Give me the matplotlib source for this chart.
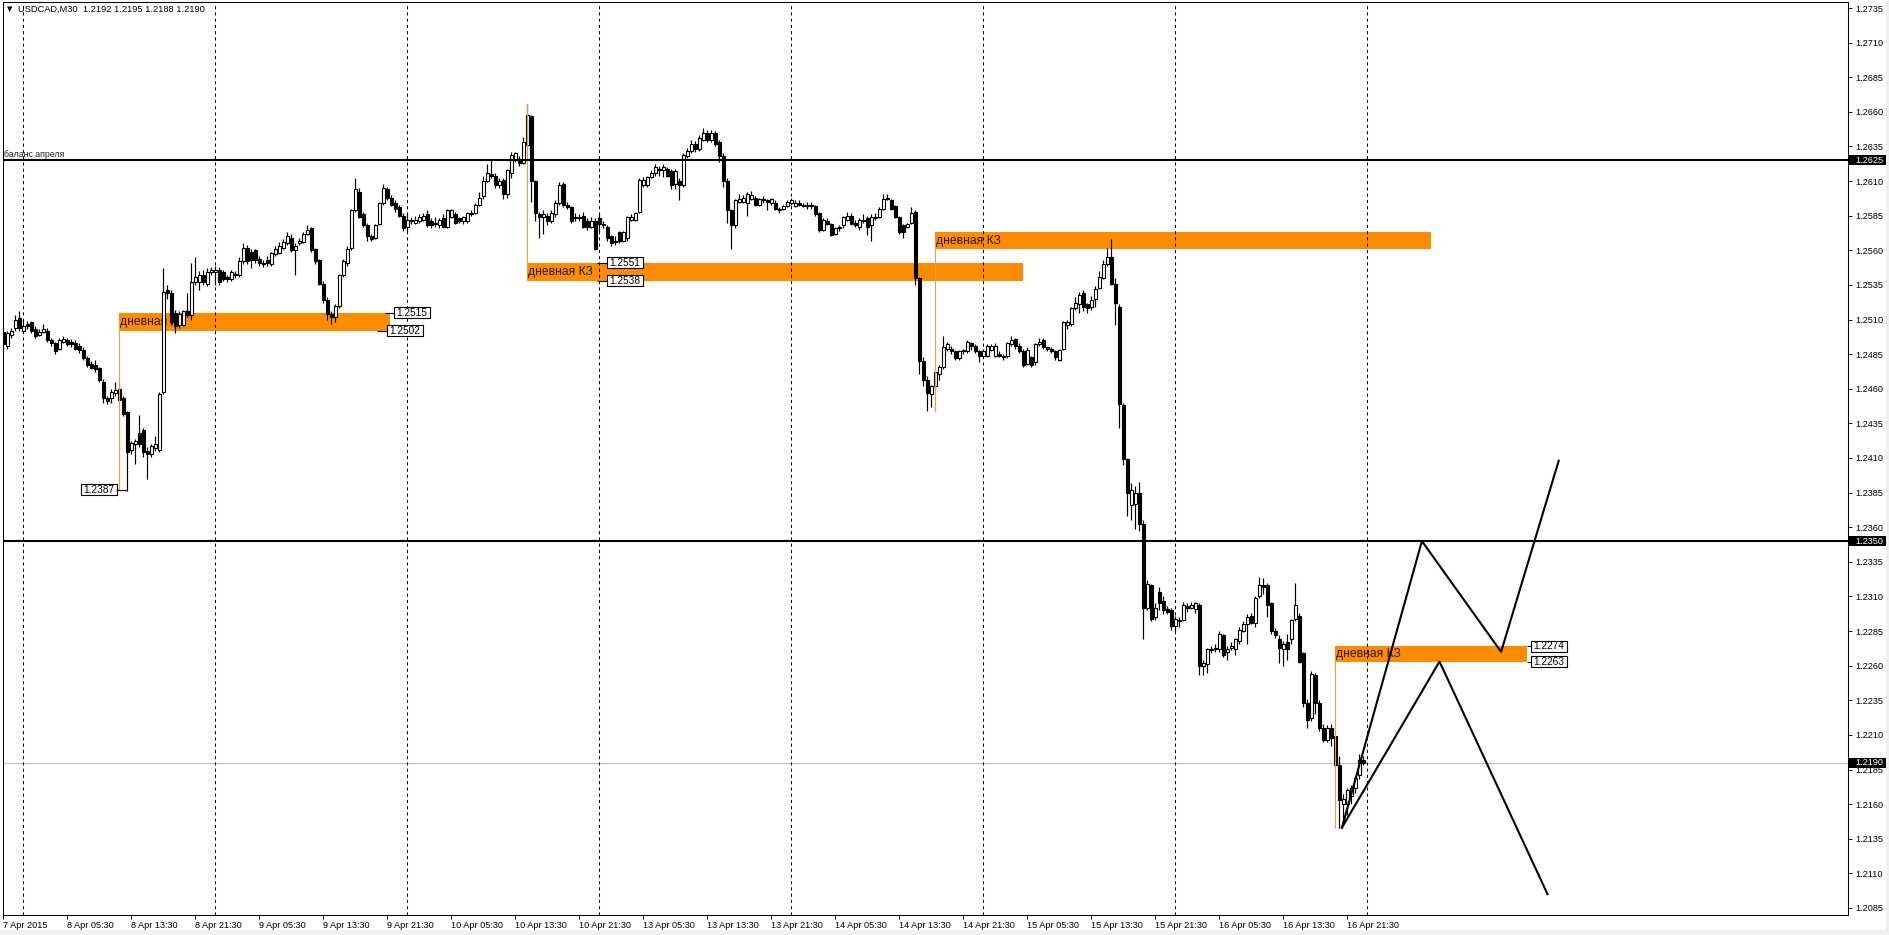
import matplotlib
matplotlib.use("Agg")
import matplotlib.pyplot as plt
import matplotlib.patches as patches
from matplotlib.transforms import blended_transform_factory, ScaledTranslation
import numpy as np

plt.rcParams['font.family'] = ['Liberation Sans', 'DejaVu Sans']

# USDCAD M30 candles, prices in 1/10000 (12501 -> 1.2501), first bar = 7 Apr 21:30
opens = [
    12501, 12491, 12499, 12504, 12511, 12502, 12507, 12508, 12503, 12499,
    12501, 12502, 12495, 12493, 12489, 12494, 12495, 12494, 12493, 12491,
    12488, 12482, 12478, 12477, 12475, 12465, 12453, 12453, 12457, 12460,
    12453, 12443, 12416, 12420, 12428, 12430, 12415, 12413, 12417, 12416,
    12458, 12531, 12529, 12515, 12506, 12506, 12516, 12513, 12537, 12537,
    12542, 12536, 12544, 12544, 12546, 12544, 12541, 12539, 12543, 12542,
    12552, 12562, 12559, 12560, 12554, 12551, 12553, 12550, 12557, 12558,
    12562, 12565, 12569, 12560, 12565, 12566, 12572, 12576, 12561, 12553,
    12536, 12524, 12514, 12512, 12520, 12542, 12551, 12562, 12589, 12602,
    12586, 12578, 12570, 12569, 12579, 12594, 12604, 12598, 12594, 12591,
    12585, 12577, 12582, 12580, 12581, 12582, 12586, 12581, 12580, 12578,
    12583, 12577, 12584, 12586, 12583, 12581, 12581, 12586, 12587, 12593,
    12599, 12610, 12615, 12614, 12607, 12611, 12601, 12616, 12626, 12626,
    12623, 12636, 12657, 12610, 12586, 12584, 12585, 12581, 12586, 12594,
    12608, 12593, 12591, 12584, 12583, 12585, 12581, 12577, 12581, 12583,
    12579, 12577, 12570, 12567, 12573, 12567, 12569, 12582, 12582, 12588,
    12607, 12607, 12613, 12616, 12618, 12618, 12619, 12617, 12608, 12610,
    12607, 12628, 12632, 12637, 12633, 12640, 12645, 12640, 12645, 12638,
    12628, 12610, 12589, 12578, 12595, 12595, 12594, 12597, 12598, 12593,
    12597, 12596, 12594, 12594, 12590, 12590, 12592, 12594, 12592, 12594,
    12593, 12592, 12593, 12592, 12587, 12575, 12581, 12579, 12572, 12577,
    12578, 12582, 12585, 12580, 12577, 12581, 12583, 12578, 12583, 12584,
    12590, 12597, 12596, 12592, 12584, 12578, 12577, 12580, 12588, 12540,
    12480, 12466, 12456, 12462, 12471, 12476, 12489, 12489, 12487, 12482,
    12488, 12487, 12493, 12491, 12487, 12484, 12484, 12488, 12484, 12485,
    12484, 12484, 12492, 12496, 12491, 12487, 12478, 12483, 12479, 12492,
    12495, 12490, 12489, 12487, 12481, 12489, 12506, 12507, 12518, 12521,
    12529, 12521, 12519, 12525, 12533, 12540, 12550, 12555, 12536, 12519,
    12448, 12409, 12376, 12377, 12385, 12362, 12302, 12318, 12295, 12313,
    12307, 12301, 12300, 12289, 12292, 12293, 12303, 12302, 12301, 12304,
    12260, 12261, 12271, 12272, 12272, 12282, 12270, 12273, 12272, 12278,
    12285, 12290, 12296, 12291, 12310, 12318, 12318, 12305, 12285, 12279,
    12272, 12277, 12279, 12294, 12296, 12269, 12233, 12222, 12253, 12233,
    12215, 12206, 12215, 12209, 12188, 12160, 12160, 12166, 12172, 12181,
    12192,
]
highs = [
    12504, 12502, 12504, 12513, 12516, 12510, 12509, 12509, 12505, 12503,
    12507, 12504, 12497, 12494, 12497, 12498, 12497, 12496, 12495, 12493,
    12490, 12484, 12480, 12481, 12476, 12467, 12455, 12460, 12465, 12463,
    12455, 12444, 12422, 12424, 12441, 12432, 12418, 12420, 12426, 12458,
    12547, 12535, 12531, 12517, 12516, 12517, 12529, 12551, 12555, 12545,
    12546, 12547, 12548, 12549, 12548, 12546, 12542, 12546, 12545, 12555,
    12565, 12564, 12561, 12561, 12556, 12553, 12556, 12559, 12563, 12566,
    12568, 12573, 12572, 12565, 12569, 12573, 12578, 12577, 12562, 12554,
    12538, 12526, 12516, 12521, 12543, 12554, 12563, 12590, 12612, 12605,
    12588, 12580, 12572, 12579, 12595, 12608, 12606, 12600, 12596, 12593,
    12587, 12586, 12584, 12585, 12586, 12587, 12589, 12583, 12584, 12583,
    12586, 12590, 12590, 12588, 12584, 12585, 12588, 12589, 12594, 12602,
    12614, 12622, 12626, 12616, 12612, 12612, 12619, 12631, 12631, 12628,
    12642, 12666, 12658, 12611, 12588, 12589, 12587, 12589, 12596, 12609,
    12609, 12595, 12592, 12587, 12586, 12588, 12583, 12584, 12583, 12586,
    12581, 12578, 12571, 12570, 12574, 12574, 12585, 12586, 12588, 12612,
    12613, 12614, 12618, 12622, 12621, 12622, 12620, 12619, 12619, 12612,
    12630, 12634, 12640, 12639, 12643, 12648, 12647, 12647, 12646, 12640,
    12630, 12612, 12590, 12597, 12601, 12600, 12602, 12603, 12599, 12598,
    12599, 12597, 12598, 12596, 12591, 12593, 12596, 12598, 12596, 12596,
    12594, 12595, 12595, 12593, 12588, 12583, 12583, 12580, 12577, 12578,
    12585, 12588, 12587, 12582, 12583, 12586, 12585, 12586, 12587, 12591,
    12601, 12601, 12597, 12593, 12585, 12579, 12580, 12591, 12589, 12541,
    12483, 12469, 12463, 12474, 12477, 12498, 12494, 12491, 12488, 12488,
    12489, 12495, 12494, 12492, 12488, 12489, 12492, 12492, 12493, 12487,
    12485, 12494, 12498, 12497, 12493, 12489, 12490, 12484, 12493, 12497,
    12497, 12491, 12490, 12488, 12489, 12509, 12510, 12519, 12526, 12530,
    12531, 12522, 12527, 12534, 12545, 12553, 12562, 12568, 12540, 12521,
    12450, 12410, 12392, 12390, 12393, 12365, 12322, 12319, 12305, 12317,
    12310, 12303, 12302, 12296, 12295, 12306, 12305, 12306, 12306, 12305,
    12264, 12273, 12274, 12276, 12285, 12283, 12274, 12277, 12280, 12288,
    12292, 12297, 12298, 12310, 12324, 12323, 12320, 12306, 12287, 12282,
    12278, 12283, 12294, 12320, 12298, 12270, 12236, 12256, 12255, 12235,
    12218, 12217, 12218, 12210, 12195, 12167, 12172, 12174, 12180, 12196,
    12195,
]
lows = [
    12489, 12489, 12497, 12502, 12502, 12500, 12503, 12500, 12497, 12498,
    12500, 12494, 12491, 12485, 12488, 12493, 12491, 12490, 12488, 12486,
    12481, 12476, 12474, 12472, 12465, 12450, 12449, 12450, 12455, 12451,
    12440, 12386, 12413, 12406, 12418, 12411, 12395, 12411, 12415, 12414,
    12456, 12525, 12506, 12500, 12504, 12505, 12512, 12510, 12535, 12531,
    12535, 12534, 12542, 12535, 12535, 12538, 12537, 12538, 12540, 12541,
    12550, 12550, 12547, 12551, 12549, 12548, 12549, 12549, 12556, 12557,
    12561, 12564, 12559, 12542, 12564, 12565, 12571, 12559, 12550, 12535,
    12522, 12510, 12507, 12508, 12518, 12541, 12549, 12560, 12588, 12583,
    12577, 12567, 12567, 12568, 12578, 12593, 12596, 12592, 12588, 12584,
    12574, 12573, 12579, 12579, 12580, 12581, 12577, 12576, 12577, 12576,
    12576, 12576, 12583, 12579, 12580, 12579, 12580, 12585, 12586, 12592,
    12597, 12609, 12612, 12605, 12605, 12597, 12598, 12612, 12624, 12621,
    12622, 12635, 12595, 12581, 12569, 12572, 12578, 12580, 12584, 12593,
    12591, 12590, 12580, 12581, 12581, 12576, 12575, 12576, 12560, 12574,
    12576, 12567, 12563, 12564, 12565, 12566, 12567, 12581, 12581, 12587,
    12606, 12606, 12612, 12614, 12614, 12613, 12613, 12604, 12604, 12596,
    12606, 12627, 12630, 12631, 12632, 12639, 12638, 12638, 12635, 12624,
    12606, 12580, 12561, 12576, 12594, 12594, 12585, 12596, 12592, 12592,
    12594, 12589, 12593, 12589, 12587, 12589, 12591, 12593, 12591, 12592,
    12591, 12590, 12590, 12585, 12573, 12574, 12578, 12570, 12571, 12574,
    12576, 12581, 12578, 12577, 12575, 12580, 12571, 12567, 12582, 12583,
    12589, 12596, 12589, 12583, 12572, 12569, 12576, 12579, 12535, 12471,
    12462, 12444, 12447, 12459, 12466, 12474, 12487, 12485, 12481, 12481,
    12485, 12486, 12488, 12486, 12479, 12482, 12483, 12487, 12483, 12483,
    12481, 12482, 12491, 12489, 12486, 12476, 12477, 12476, 12477, 12491,
    12489, 12487, 12486, 12481, 12480, 12488, 12503, 12505, 12517, 12515,
    12516, 12515, 12517, 12519, 12532, 12539, 12549, 12535, 12506, 12432,
    12405, 12368, 12365, 12359, 12357, 12279, 12300, 12292, 12293, 12300,
    12297, 12297, 12286, 12285, 12288, 12292, 12299, 12301, 12298, 12253,
    12253, 12255, 12269, 12270, 12270, 12266, 12264, 12271, 12268, 12276,
    12284, 12276, 12290, 12288, 12309, 12312, 12295, 12283, 12280, 12262,
    12260, 12264, 12276, 12292, 12262, 12230, 12215, 12220, 12225, 12213,
    12205, 12205, 12202, 12186, 12143, 12147, 12152, 12160, 12168, 12178,
    12188,
]
closes = [
    12492, 12500, 12502, 12510, 12504, 12505, 12505, 12502, 12498, 12501,
    12503, 12495, 12493, 12487, 12495, 12496, 12492, 12492, 12489, 12488,
    12482, 12477, 12475, 12474, 12466, 12453, 12451, 12458, 12459, 12452,
    12442, 12414, 12421, 12422, 12420, 12414, 12413, 12419, 12420, 12456,
    12530, 12529, 12508, 12505, 12514, 12516, 12513, 12537, 12541, 12542,
    12537, 12544, 12546, 12546, 12537, 12539, 12539, 12544, 12542, 12552,
    12562, 12552, 12553, 12553, 12551, 12550, 12551, 12558, 12561, 12563,
    12566, 12570, 12560, 12563, 12567, 12572, 12575, 12560, 12552, 12536,
    12524, 12514, 12512, 12520, 12542, 12552, 12561, 12589, 12604, 12584,
    12578, 12570, 12568, 12578, 12594, 12605, 12598, 12593, 12590, 12585,
    12576, 12582, 12581, 12582, 12584, 12585, 12578, 12578, 12579, 12582,
    12577, 12589, 12589, 12580, 12581, 12584, 12587, 12587, 12593, 12598,
    12610, 12616, 12614, 12607, 12610, 12601, 12618, 12629, 12630, 12623,
    12638, 12658, 12610, 12587, 12584, 12586, 12581, 12587, 12594, 12607,
    12593, 12591, 12581, 12583, 12584, 12577, 12577, 12581, 12561, 12579,
    12578, 12569, 12565, 12566, 12567, 12573, 12584, 12584, 12587, 12611,
    12611, 12613, 12616, 12620, 12619, 12620, 12614, 12607, 12617, 12607,
    12629, 12632, 12637, 12633, 12641, 12645, 12640, 12645, 12637, 12628,
    12610, 12589, 12578, 12596, 12597, 12598, 12601, 12600, 12593, 12597,
    12596, 12595, 12597, 12590, 12589, 12592, 12595, 12596, 12594, 12593,
    12592, 12593, 12592, 12586, 12575, 12582, 12579, 12571, 12576, 12576,
    12584, 12585, 12579, 12578, 12582, 12582, 12577, 12584, 12584, 12590,
    12597, 12598, 12590, 12584, 12573, 12573, 12579, 12587, 12540, 12480,
    12466, 12457, 12462, 12472, 12476, 12490, 12492, 12487, 12482, 12487,
    12487, 12494, 12491, 12487, 12484, 12487, 12491, 12491, 12491, 12484,
    12483, 12493, 12495, 12491, 12487, 12477, 12488, 12477, 12492, 12494,
    12490, 12489, 12487, 12483, 12488, 12508, 12508, 12518, 12522, 12528,
    12519, 12518, 12524, 12532, 12541, 12550, 12555, 12536, 12522, 12449,
    12409, 12385, 12387, 12385, 12362, 12302, 12319, 12294, 12302, 12305,
    12300, 12299, 12289, 12294, 12293, 12304, 12302, 12304, 12305, 12260,
    12262, 12272, 12272, 12273, 12283, 12268, 12272, 12274, 12279, 12286,
    12290, 12295, 12291, 12309, 12318, 12317, 12304, 12285, 12282, 12273,
    12276, 12272, 12293, 12304, 12263, 12233, 12221, 12254, 12233, 12215,
    12206, 12215, 12208, 12188, 12163, 12164, 12170, 12172, 12179, 12192,
    12190,
]

# time axis labels, one every 16 bars
label_bars = [0, 16, 32, 48, 64, 80, 96, 112, 128, 144, 160,
              176, 192, 208, 224, 240, 256, 272, 288, 304, 320, 336]
time_labels = ["7 Apr 2015", "8 Apr 05:30", "8 Apr 13:30", "8 Apr 21:30",
               "9 Apr 05:30", "9 Apr 13:30", "9 Apr 21:30", "10 Apr 05:30",
               "10 Apr 13:30", "10 Apr 21:30", "13 Apr 05:30", "13 Apr 13:30",
               "13 Apr 21:30", "14 Apr 05:30", "14 Apr 13:30", "14 Apr 21:30",
               "15 Apr 05:30", "15 Apr 13:30", "15 Apr 21:30", "16 Apr 05:30",
               "16 Apr 13:30", "16 Apr 21:30"]
# bars at 00:00 -> dashed day separators
day_bars = [5, 53, 101, 149, 197, 245, 293, 341]

levels = [1.2625, 1.2350]
bid = 1.2190

# daily KZ zones
zone_left = [29, 131, 233, 333]
zone_right = [96.6, 254.9, 356.9, 380.8]
zone_top = [1.2515, 1.2551, 1.2573, 1.2274]
zone_bot = [1.2502, 1.2538, 1.2561, 1.2263]
zone_line_end = [1.2387, 1.2666, 1.2443, 1.2143]

# price labels: text, price, leader start (bar), box left edge (bar)
plabel_text = ["1.2387", "1.2515", "1.2502", "1.2551", "1.2538", "1.2274", "1.2263"]
plabel_price = [1.2387, 1.2515, 1.2502, 1.2551, 1.2538, 1.2274, 1.2263]
plabel_lead = [31.0, 95.4, 93.3, 148.3, 148.3, 380.8, 380.8]
plabel_box = [19.4, 97.6, 95.8, 150.9, 150.9, 381.8, 381.8]

# projected zigzags (bar, price)
path1_x = [334.6, 354.6, 374.4, 388.8]
path1_y = [1.2143, 1.2350, 1.2270, 1.2408]
path2_x = [334.6, 359.0, 386.0]
path2_y = [1.2143, 1.2263, 1.2095]

W, H = 1890, 935
fig = plt.figure(figsize=(W / 100, H / 100), dpi=100)
fig.patch.set_facecolor('white')

# chart frame in pixels
L, T, R, B = 3, 2, 1848, 915
ax = fig.add_axes([L / W, (H - B) / H, (R - L) / W, (B - T) / H])

px_bar = 4.0        # pixels per bar
px_price = 13846.0  # pixels per 1.0 of price
xmin = -(3.5 - L) / px_bar
ax.set_xlim(xmin, xmin + (R - L) / px_bar)
ymax = 1.2735 + (8 - T) / px_price
ymin = 1.2735 - (B - 8) / px_price
ax.set_ylim(ymin, ymax)

o = np.array(opens) / 1e4
h = np.array(highs) / 1e4
l = np.array(lows) / 1e4
c = np.array(closes) / 1e4
idx = np.arange(len(o))
up = c > o

# zones behind candles
for x0, x1, top, bot in zip(zone_left, zone_right, zone_top, zone_bot):
    ax.add_patch(patches.Rectangle((x0, bot), x1 - x0, top - bot,
                                   facecolor='#ff8c00', edgecolor='none', zorder=1))
    ax.text(x0 + 0.2, (top + bot) / 2 - 0.5 / px_price, 'дневная КЗ', fontsize=8.7,
            ha='left', va='center', color='#2a1a08', zorder=1.2)

ax.axhline(bid, color='#c0c0c0', lw=0.8, zorder=0.5)
ax.vlines(day_bars, ymin, ymax, colors='black', linestyles=(0, (3, 3)), lw=0.75, zorder=1.5)

# candles
ax.vlines(idx, l, h, color='black', lw=0.85, zorder=3)
ax.bar(idx, np.abs(c - o), bottom=np.minimum(o, c), width=0.62,
       color=np.where(up, 'white', 'black'), edgecolor='black', linewidth=0.8, zorder=4)

# zone marker lines
for x0, top, bot, end in zip(zone_left, zone_top, zone_bot, zone_line_end):
    ax.vlines(x0, (top + bot) / 2, end, color='#e9a04c', lw=0.9, zorder=5)

for lv in levels:
    ax.axhline(lv, color='black', lw=1.5, zorder=6)
ax.text(xmin + 0.3, levels[0] + 1.5 / px_price, 'баланс апреля', fontsize=6.3,
        ha='left', va='bottom', color='#222222', zorder=6)

ax.plot(path1_x, path1_y, color='black', lw=1.5, zorder=7)
ax.plot(path2_x, path2_y, color='black', lw=1.5, zorder=7)

# price labels
bh = 11 / px_price
for txt, pr, x_lead, x_box in zip(plabel_text, plabel_price, plabel_lead, plabel_box):
    if x_box < x_lead:
        ax.hlines(pr, x_box + 9, x_lead, color='black', lw=0.8, zorder=8)
    else:
        ax.hlines(pr, x_lead, x_box, color='black', lw=0.8, zorder=8)
    ax.add_patch(patches.Rectangle((x_box, pr - bh / 2), 9, bh, facecolor='white',
                                   edgecolor='black', lw=0.8, zorder=8))
    ax.text(x_box + 4.5, pr, txt, fontsize=7.3, ha='center', va='center', zorder=9)

# axes styling
for sp in ax.spines.values():
    sp.set_linewidth(0.75)
    sp.set_color('black')

ax.set_xticks(label_bars)
ax.set_xticklabels(time_labels, ha='left')
shift = ScaledTranslation(2.5 / 100, 0, fig.dpi_scale_trans)
for lbl in ax.get_xticklabels():
    lbl.set_transform(lbl.get_transform() + shift)
ax.tick_params(axis='x', direction='out', length=3, width=0.7, pad=1.5, labelsize=6.6)

yt = np.arange(1.2085, 1.27351, 0.0025)
ax.yaxis.tick_right()
ax.set_yticks(yt)
ax.set_yticklabels([f"{v:.4f}" for v in yt])
ax.tick_params(axis='y', direction='out', length=3, width=0.7, pad=2, labelsize=6.6)

# current-level boxes on the price scale
tr = blended_transform_factory(ax.transAxes, ax.transData)
for lv in levels + [bid]:
    ax.add_patch(patches.Rectangle((1.0 + 1 / (R - L), lv - 5 / px_price), 37 / (R - L),
                                   10 / px_price, transform=tr, facecolor='black',
                                   edgecolor='none', clip_on=False, zorder=10))
    ax.text(1.0 + 7 / (R - L), lv, f"{lv:.4f}", transform=tr, color='white',
            fontsize=6.6, ha='left', va='center', clip_on=False, zorder=11)

# header
fig.text(7 / W, 1 - 9.5 / H, '▼', fontsize=5, ha='left', va='center', family='DejaVu Sans')
fig.text(18 / W, 1 - 9.5 / H, 'USDCAD,M30  1.2192 1.2195 1.2188 1.2190',
         fontsize=6.7, ha='left', va='center')

# light window edges
fig.patches.append(patches.Rectangle((0, 0), 1, 5 / H, transform=fig.transFigure,
                                     facecolor='#f0f0f0', edgecolor='none'))
fig.patches.append(patches.Rectangle((1886 / W, 0), 4 / W, 1, transform=fig.transFigure,
                                     facecolor='#f0f0f0', edgecolor='none'))

fig.savefig('out.png', dpi=100)
